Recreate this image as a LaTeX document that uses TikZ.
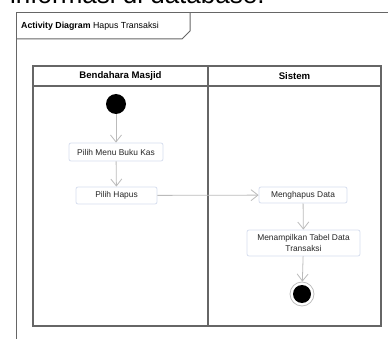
\documentclass[tikz,border=0pt]{standalone}
\usepackage{fontspec}
\setmainfont{Liberation Sans}
\usetikzlibrary{arrows.meta}
\definecolor{framec}{HTML}{666666}
\definecolor{boxc}{HTML}{D6DEEE}
\definecolor{arrc}{HTML}{BBBBBB}
\tikzset{
  act/.style={draw=boxc, line width=0.8pt, rounded corners=2pt, fill=white, inner sep=0pt, align=center, font=\fontsize{8.4}{11}\selectfont, text=black!85},
  flow/.style={draw=arrc, line width=0.8pt, -{Straight Barb[length=7pt,width=11pt]}},
  lane/.style={draw=framec, line width=1.1pt},
}
\begin{document}
\begin{tikzpicture}[x=1pt,y=-1pt]
\useasboundingbox (0,0) rectangle (388,339);
\begin{scope}
\clip (0,0) rectangle (388,339);
\node[anchor=base west, inner sep=0pt, font=\fontsize{26}{30}\selectfont] (top) at (10,4) {informasi di database.};
% outer frame
\draw[draw=framec, line width=1pt] (16,345) -- (16,13) -- (395,13);
\draw[draw=framec, line width=1pt] (16,39) -- (182,39) -- (190,31) -- (190,13);
\node[anchor=west, inner sep=0pt, font=\fontsize{8.8}{10}\selectfont] (title) at (21,26) {\textbf{Activity Diagram} Hapus Transaksi};
\end{scope}
% swimlanes
\draw[lane] (33,66) rectangle (381,326);
\draw[lane] (33,86) -- (381,86);
\draw[lane] (208,66) -- (208,326);
\node[font=\bfseries\fontsize{9.6}{11}\selectfont] (h1) at (120.5,76) {Bendahara Masjid};
\node[font=\bfseries\fontsize{9.6}{11}\selectfont] (h2) at (294.5,76) {Sistem};
% nodes
\node[circle, fill=black, minimum size=20pt, inner sep=0pt] (start) at (116,104) {};
\node[act, minimum width=94pt, minimum height=18pt] (b1) at (116,152) {Pilih Menu Buku Kas};
\node[act, minimum width=81pt, minimum height=17pt] (b2) at (116.5,195.5) {Pilih Hapus};
\node[act, minimum width=88pt, minimum height=16pt] (b3) at (303,195) {Menghapus Data};
\node[act, minimum width=113pt, minimum height=26pt] (b4) at (303.5,243) {Menampilkan Tabel Data\\Transaksi};
\node[circle, draw=black!25, line width=0.8pt, fill=white, minimum size=24pt, inner sep=0pt] (endo) at (302,294) {};
\node[circle, fill=black, minimum size=18pt, inner sep=0pt] (endi) at (302,294) {};
% flows
\draw[flow] (start) -- (b1);
\draw[flow] (b1) -- (b2);
\draw[flow] (b2) -- (b3);
\draw[flow] (b3) -- (b4);
\draw[flow] (b4) -- (endo);
\end{tikzpicture}
\end{document}
